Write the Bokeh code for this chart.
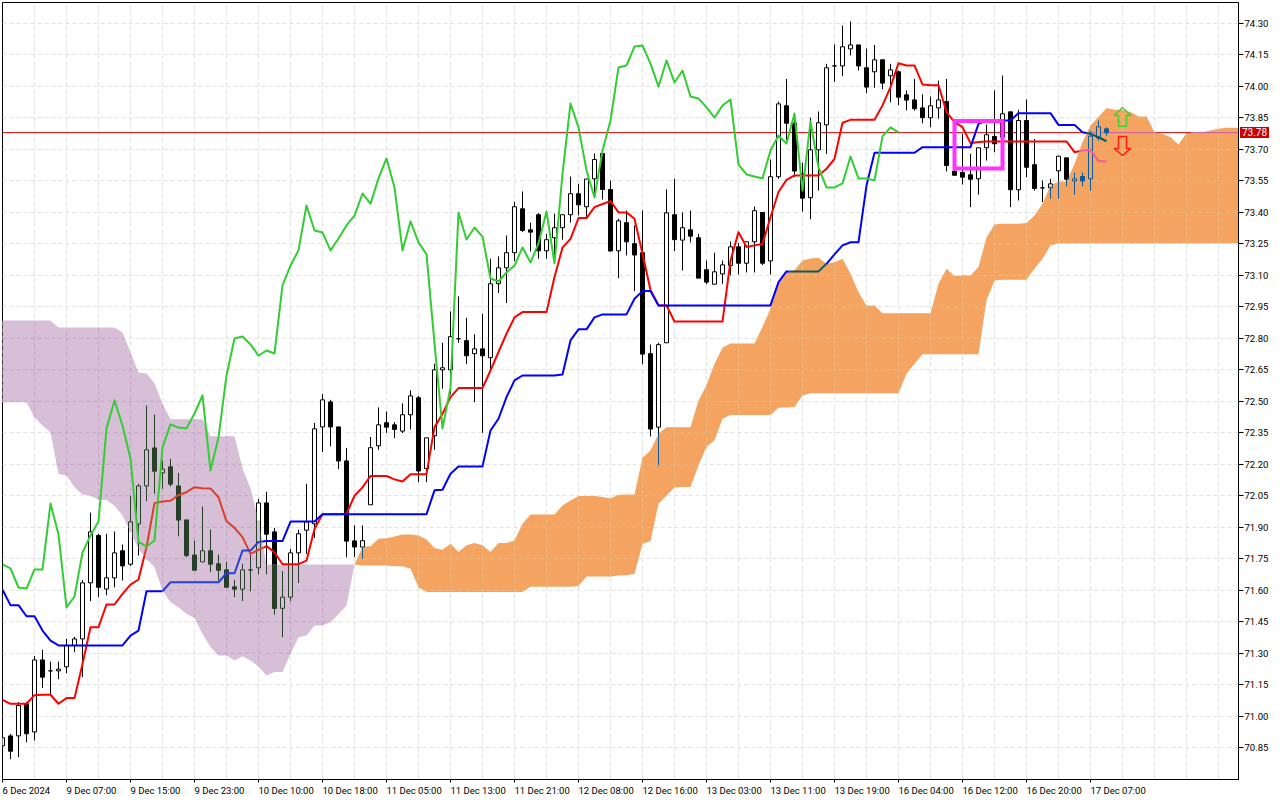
import math
import numpy as np
from bokeh.embed import file_html
from bokeh.layouts import column
from bokeh.resources import INLINE
from bokeh.plotting import figure
from bokeh.models import FixedTicker, PrintfTickFormatter, LinearAxis, Div, ColumnDataSource

# ---- data ----
opens = [70.859,70.906,70.906,71.059,70.925,71.268,71.216,71.216,71.235,71.337,71.368,71.635,71.861,71.606,71.659,71.788,71.724,71.916,72.097,72.278,
 72.159,72.188,72.097,71.935,71.768,71.735,71.788,71.726,71.697,71.616,71.605,71.697,71.707,72.016,71.878,71.514,71.567,71.778,71.886,71.916,
 72.378,72.497,72.378,72.216,71.835,71.806,72.007,72.288,72.398,72.388,72.358,72.436,72.517,72.179,72.336,72.65,72.65,72.798,72.789,72.727,
 72.75,72.708,73.06,73.136,73.208,73.417,73.317,73.389,73.217,73.279,73.327,73.389,73.489,73.427,73.56,73.681,73.509,73.217,73.351,73.251,
 73.208,72.727,72.377,72.779,73.389,73.268,73.317,73.279,73.127,73.058,73.107,73.147,73.236,73.158,73.26,73.40,73.169,73.57,73.908,73.825,
 73.584,73.47,73.698,73.817,74.098,74.098,74.179,74.198,74.089,74.07,74.127,74.051,74.07,73.96,73.936,73.898,73.851,73.898,73.928,73.596,
 73.59,73.579,73.56,73.708,73.762,73.758,73.879,73.508,73.838,73.627,73.517,73.517,73.598,73.66,73.55,73.571,73.56,73.754,73.798]
highs = [70.90,70.916,71.067,71.067,71.287,71.316,71.26,71.26,71.368,71.378,71.649,71.97,71.869,71.869,71.88,71.818,72.05,72.107,72.48,72.437,
 72.221,72.226,72.159,71.935,71.837,71.999,71.889,71.77,71.735,71.649,71.726,71.773,72.035,72.069,71.897,71.691,71.797,71.888,72.107,72.397,
 72.535,72.507,72.378,72.278,71.909,71.909,72.33,72.471,72.452,72.401,72.49,72.552,72.526,72.326,72.679,72.779,72.928,73.0,72.898,72.819,
 72.917,73.179,73.19,73.29,73.451,73.5,73.351,73.397,73.298,73.394,73.39,73.571,73.536,73.56,73.681,73.681,73.552,73.37,73.409,73.338,
 73.409,72.77,72.779,73.51,73.56,73.40,73.409,73.298,73.171,73.208,73.171,73.262,73.255,73.26,73.428,73.40,73.652,73.928,74.036,73.87,
 73.636,73.851,73.881,74.108,74.2,74.29,74.31,74.198,74.181,74.198,74.127,74.108,74.076,73.981,74.036,73.962,73.952,74.028,74.036,73.838,
 73.774,73.679,73.708,73.819,73.981,74.052,73.879,73.889,73.938,73.75,73.552,73.56,73.668,73.66,73.59,73.59,73.79,73.838,73.806]
lows = [70.85,70.795,70.805,70.876,70.884,71.135,71.103,71.176,71.205,71.305,71.186,71.548,71.567,71.576,71.614,71.646,71.716,71.765,72.024,72.059,
 72.083,72.094,71.857,71.757,71.695,71.735,71.686,71.646,71.614,71.567,71.548,71.595,71.676,71.676,71.484,71.376,71.548,71.634,71.773,71.849,
 72.258,72.286,72.177,71.757,71.758,71.75,72.007,72.269,72.35,72.325,72.349,72.366,72.115,72.115,72.269,72.56,72.533,72.779,72.677,72.496,
 72.35,72.647,73.016,72.968,73.168,73.306,73.214,73.179,73.179,73.155,73.27,73.351,73.386,73.378,73.47,73.461,73.216,73.087,73.195,73.025,
 72.677,72.333,72.195,72.779,73.216,73.123,73.257,73.087,73.058,73.058,73.06,73.10,73.104,73.114,73.114,73.149,73.104,73.56,73.743,73.568,
 73.404,73.368,73.504,73.679,74.022,74.049,74.148,74.076,73.968,73.994,73.987,73.924,73.911,73.886,73.885,73.825,73.806,73.846,73.595,73.577,
 73.533,73.425,73.485,73.647,73.687,73.75,73.425,73.457,73.568,73.504,73.449,73.466,73.466,73.525,73.485,73.525,73.504,73.742,73.766]
closes = [70.897,70.833,71.051,70.916,71.268,71.186,71.216,71.224,71.337,71.368,71.635,71.878,71.614,71.659,71.778,71.716,71.926,72.097,72.269,72.167,
 72.177,72.105,71.934,71.765,71.695,71.788,71.724,71.695,71.614,71.605,71.697,71.697,72.016,71.867,71.513,71.567,71.778,71.869,71.926,72.369,
 72.507,72.378,72.216,71.834,71.806,71.836,72.279,72.388,72.377,72.366,72.436,72.526,72.168,72.326,72.65,72.66,72.808,72.798,72.717,72.75,
 72.717,73.06,73.136,73.208,73.427,73.314,73.306,73.217,73.27,73.327,73.389,73.489,73.436,73.559,73.652,73.509,73.216,73.36,73.26,73.197,
 72.725,72.368,72.77,73.398,73.27,73.327,73.287,73.087,73.068,73.117,73.15,73.236,73.158,73.26,73.408,73.158,73.57,73.917,73.825,73.597,
 73.468,73.698,73.827,74.089,74.098,74.189,74.198,74.098,73.997,74.127,74.016,74.079,73.949,73.935,73.894,73.851,73.908,73.936,73.623,73.577,
 73.568,73.558,73.708,73.77,73.727,73.87,73.508,73.838,73.615,73.514,73.517,73.536,73.668,73.558,73.56,73.55,73.763,73.808,73.78]

tenkan = [71.078,71.059,71.059,71.059,71.10,71.102,71.102,71.059,71.086,71.086,71.249,71.424,71.424,71.532,71.532,71.583,71.627,71.651,71.805,72.015,
 72.023,72.026,72.054,72.067,72.091,72.086,72.085,72.043,71.929,71.897,71.853,71.773,71.792,71.81,71.781,71.724,71.724,71.724,71.741,71.892,
 71.962,71.962,71.962,71.964,72.05,72.09,72.144,72.144,72.144,72.128,72.118,72.153,72.153,72.153,72.377,72.44,72.52,72.563,72.563,72.563,
 72.563,72.647,72.735,72.822,72.90,72.925,72.925,72.925,72.925,73.092,73.232,73.274,73.373,73.373,73.425,73.44,73.454,73.40,73.40,73.37,
 73.203,73.03,72.957,72.957,72.88,72.88,72.88,72.88,72.88,72.88,72.88,73.17,73.306,73.235,73.243,73.25,73.377,73.497,73.555,73.576,
 73.576,73.576,73.576,73.608,73.655,73.827,73.841,73.841,73.841,73.841,73.91,73.997,74.111,74.10,74.10,74.009,74.006,74.006,73.878,73.83,
 73.806,73.73,73.735,73.738,73.738,73.738,73.738,73.738,73.738,73.738,73.738,73.738,73.738,73.738,73.687,73.695,73.698,73.644,73.644]
kijun = [71.602,71.529,71.529,71.476,71.476,71.408,71.36,71.337,71.337,71.337,71.337,71.337,71.337,71.337,71.337,71.337,71.384,71.408,71.595,71.595,
 71.595,71.638,71.638,71.638,71.638,71.638,71.638,71.638,71.681,71.681,71.789,71.789,71.83,71.834,71.834,71.834,71.927,71.927,71.927,71.927,
 71.962,71.962,71.962,71.962,71.962,71.962,71.962,71.962,71.962,71.962,71.962,71.962,71.962,71.962,72.076,72.079,72.155,72.19,72.19,72.19,
 72.19,72.361,72.417,72.52,72.60,72.623,72.623,72.623,72.623,72.623,72.628,72.79,72.843,72.843,72.90,72.914,72.914,72.914,72.914,72.989,
 73.025,73.025,72.957,72.957,72.957,72.957,72.957,72.957,72.957,72.957,72.957,72.957,72.957,72.957,72.957,72.957,72.957,73.068,73.119,73.119,
 73.119,73.119,73.119,73.155,73.2,73.243,73.258,73.258,73.528,73.684,73.684,73.684,73.684,73.684,73.684,73.711,73.711,73.711,73.711,73.711,
 73.711,73.711,73.822,73.838,73.838,73.838,73.838,73.873,73.873,73.873,73.873,73.873,73.817,73.817,73.817,73.782,73.774,73.758,73.739]
chikou = [71.723,71.704,71.613,71.608,71.699,71.699,72.013,71.866,71.518,71.57,71.78,71.861,71.928,72.371,72.504,72.385,72.228,71.832,71.808,71.837,
 72.28,72.39,72.375,72.371,72.442,72.528,72.17,72.328,72.623,72.799,72.809,72.771,72.718,72.742,72.728,73.052,73.147,73.219,73.433,73.314,
 73.304,73.219,73.276,73.338,73.385,73.49,73.442,73.562,73.657,73.519,73.219,73.357,73.257,73.2,72.776,72.371,72.566,73.4,73.271,73.328,
 73.285,73.085,73.071,73.114,73.147,73.233,73.161,73.252,73.404,73.157,73.585,73.919,73.805,73.6,73.471,73.695,73.838,74.09,74.1,74.19,
 74.195,74.109,73.999,74.124,74.019,74.076,73.952,73.943,73.9,73.852,73.909,73.938,73.628,73.581,73.571,73.562,73.695,73.766,73.728,73.871,
 73.504,73.833,73.614,73.519,73.519,73.538,73.666,73.562,73.562,73.552,73.762,73.805,73.781]
span_a = [72.496,72.496,72.496,72.496,72.424,72.385,72.353,72.154,72.146,72.091,72.056,72.051,72.03,72.03,72.003,71.956,71.876,71.797,71.749,71.71,
 71.599,71.543,71.519,71.487,71.468,71.392,71.329,71.289,71.289,71.265,71.286,71.265,71.237,71.194,71.21,71.21,71.297,71.376,71.384,71.432,
 71.432,71.448,71.487,71.527,71.722,71.806,71.81,71.845,71.848,71.856,71.866,71.866,71.861,71.842,71.801,71.793,71.821,71.782,71.814,71.825,
 71.814,71.782,71.825,71.825,71.837,71.917,71.961,71.961,71.961,71.961,72.004,72.028,72.049,72.049,72.049,72.044,72.037,72.055,72.056,72.056,
 72.231,72.266,72.345,72.377,72.377,72.377,72.377,72.504,72.576,72.679,72.755,72.776,72.776,72.776,72.776,72.854,72.941,73.06,73.116,73.124,
 73.171,73.181,73.184,73.155,73.163,73.179,73.108,73.02,72.957,72.957,72.92,72.92,72.92,72.92,72.92,72.92,72.92,73.06,73.132,73.097,
 73.10,73.10,73.14,73.28,73.342,73.346,73.346,73.346,73.349,73.385,73.441,73.528,73.547,73.547,73.631,73.735,73.814,73.854,73.898,73.889,
 73.889,73.878,73.857,73.857,73.782,73.774,73.758,73.723,73.777,73.782,73.782,73.79,73.798,73.803,73.803,73.803]
span_b = [72.885]*7 + [72.852]*8 + [72.828,72.733,72.637,72.633,72.585,72.49] + [72.414]*5 + [72.333]*4 + [72.18,72.085,71.933] + [71.723]*12 + \
 [71.718,71.718,71.718,71.718,71.714,71.714,71.702,71.614] + [71.592]*13 + [71.617]*6 + [71.62] + [71.665]*4 + \
 [71.67,71.671,71.678,71.821,71.833,72.012,72.05,72.09,72.092,72.092,72.195,72.282,72.314,72.417] + [72.435]*6 + \
 [72.469,72.47,72.473,72.528] + [72.538]*12 + [72.631,72.679] + [72.724]*8 + [72.981,73.076] + [73.079]*4 + \
 [73.133,73.179,73.242] + [73.253]*24
assert len(opens) == len(highs) == len(lows) == len(closes) == len(tenkan) == len(kijun) == 139
assert len(chikou) == 113
assert len(span_a) == 156 and len(span_b) == 156

time_labels = ["6 Dec 2024","9 Dec 07:00","9 Dec 15:00","9 Dec 23:00","10 Dec 10:00","10 Dec 18:00","11 Dec 05:00","11 Dec 13:00","11 Dec 21:00",
 "12 Dec 08:00","12 Dec 16:00","13 Dec 03:00","13 Dec 11:00","13 Dec 19:00","16 Dec 04:00","16 Dec 12:00","16 Dec 20:00","17 Dec 07:00"]
label_bars = [0,8,16,24,32,40,48,56,64,72,80,88,96,104,112,120,128,136]
grid_bars = [0,4,8,12,16,20,24,28,32,36,40,44,48,52,56,60,64,68,72,76,80,84,88,92,96,100,104,108,112,116,120,124,128,132,136,140,144,148,152]
price_ticks = [74.30,74.15,74.00,73.85,73.70,73.55,73.40,73.25,73.10,72.95,72.80,72.65,72.50,72.35,72.20,72.05,71.90,71.75,71.60,71.45,71.30,71.15,71.00,70.85]
last_price = 73.78
box_bars = [119, 125]
box_prices = [73.836, 73.609]
up_arrow = dict(bar=140, tip=73.90, shoulder=73.862, base=73.81)
down_arrow = dict(bar=140, tip=73.671, shoulder=73.705, base=73.762)

# ---- geometry and colours ----
BAR_PX, PRICE_PX = 8.0, 209.9
LEFT, RIGHT, TOP, BOTTOM = 2, 1238, 2, 779
WIDTH, HEIGHT = 1280, 800
THISTLE, SANDY = "#D8BFD8", "#F4A460"
CROSS_BAR = 44
bars = np.arange(len(span_a))

def blend(col, fill):
    c, f = int(col[1:], 16), int(fill[1:], 16)
    return "#%06X" % (c ^ f ^ 0xFFFFFF)

def zone(x, y):
    a, b = np.interp(x, bars, span_a), np.interp(x, bars, span_b)
    if min(a, b) <= y <= max(a, b):
        return 1 if x < CROSS_BAR else 2
    return 0

def paint(col, z, plain=False):
    if plain or z == 0:
        return col
    return blend(col, THISTLE if z == 1 else SANDY)

def split_path(xs, ys, col, store, outside=True, plain=False):
    cur_x, cur_y, cur_z = [], [], None
    def flush():
        if len(cur_x) > 1 and (outside or cur_z != 0):
            store["xs"].append(list(cur_x)); store["ys"].append(list(cur_y)); store["c"].append(paint(col, cur_z, plain))
    for k in range(len(xs) - 1):
        x0, y0, x1, y1 = xs[k], ys[k], xs[k+1], ys[k+1]
        n = max(1, int(math.ceil(max(abs(x1-x0)*BAR_PX, abs(y1-y0)*PRICE_PX))))
        for s in range(n):
            t0, t1 = s/n, (s+1)/n
            ax, ay, bx, by = x0+(x1-x0)*t0, y0+(y1-y0)*t0, x0+(x1-x0)*t1, y0+(y1-y0)*t1
            z = zone((ax+bx)/2, (ay+by)/2)
            if z != cur_z:
                if cur_x:
                    cur_x.append(ax); cur_y.append(ay)
                flush()
                cur_x, cur_y, cur_z = [ax], [ay], z
            if s == n-1:
                cur_x.append(bx); cur_y.append(by)
    flush()

def new_store():
    return {"xs": [], "ys": [], "c": []}

y_top = price_ticks[0] + (23 - TOP) / PRICE_PX
y_bot = y_top - (BOTTOM - TOP) / PRICE_PX
x_lo = 0.0
x_hi = x_lo + (RIGHT - LEFT) / BAR_PX

p = figure(width=WIDTH, height=HEIGHT, output_backend="svg", toolbar_location=None,
           x_range=(x_lo, x_hi), y_range=(y_bot, y_top), y_axis_location="right",
           min_border_left=LEFT, min_border_top=TOP, min_border_right=WIDTH-RIGHT, min_border_bottom=HEIGHT-BOTTOM,
           background_fill_color="white", border_fill_color="white", outline_line_color="black", outline_line_width=1)

FONT = "Roboto"
for ax in (p.xaxis[0], p.yaxis[0]):
    ax.axis_line_color = "black"
    ax.major_tick_line_color = "black"
    ax.minor_tick_line_color = None
    ax.major_tick_in = 0
    ax.major_label_text_font = FONT
    ax.major_label_text_font_size = "9.5px"
    ax.major_label_text_color = "black"
p.yaxis[0].ticker = FixedTicker(ticks=price_ticks)
p.yaxis[0].formatter = PrintfTickFormatter(format="%.2f")
p.yaxis[0].major_tick_out = 5
p.yaxis[0].major_label_standoff = 1
p.xaxis[0].ticker = FixedTicker(ticks=label_bars)
p.xaxis[0].major_label_overrides = {b: "" for b in label_bars}
p.xaxis[0].major_tick_out = 3
p.xaxis[0].major_label_standoff = 0

# Labels start at their tick in the reference, axis labels are centred: a second axis holds them, half a label further on.
LABEL_PX = {10: 47.6, 11: 49.9, 12: 55.2}
label_ticks = [round(b + LABEL_PX[len(t)] / 2 / BAR_PX, 3) for b, t in zip(label_bars, time_labels)]
label_axis = LinearAxis(ticker=FixedTicker(ticks=label_ticks),
                        major_label_overrides={k: t for k, t in zip(label_ticks, time_labels)},
                        axis_line_color=None, major_tick_line_color=None, minor_tick_line_color=None,
                        major_tick_in=0, major_tick_out=0, major_label_standoff=2,
                        major_label_text_font=FONT, major_label_text_font_size="9.5px", major_label_text_color="black")
p.add_layout(label_axis, "below")

GRID = "#E2E2E2"
p.xgrid.ticker = FixedTicker(ticks=grid_bars)
p.ygrid.ticker = FixedTicker(ticks=price_ticks)
for g in p.xgrid + p.ygrid:
    g.grid_line_color = GRID
    g.grid_line_dash = "4 3"
    g.grid_line_width = 1

# ---- cloud ----
p.varea(x=bars[:CROSS_BAR+1], y1=span_a[:CROSS_BAR+1], y2=span_b[:CROSS_BAR+1], fill_color=THISTLE)
p.varea(x=bars[CROSS_BAR:], y1=span_a[CROSS_BAR:], y2=span_b[CROSS_BAR:], fill_color=SANDY)

gs = new_store()
for b in grid_bars:
    split_path([b, b], [y_bot, y_top], GRID, gs, outside=False)
for t in price_ticks:
    split_path([x_lo, x_hi], [t, t], GRID, gs, outside=False)
p.multi_line(xs="xs", ys="ys", line_color="c", line_width=1, line_dash="4 3", source=ColumnDataSource(gs))

# ---- last price line ----
ps = new_store()
split_path([x_lo, x_hi], [last_price, last_price], "#CC0000", ps)
p.multi_line(xs="xs", ys="ys", line_color="c", line_width=1, source=ColumnDataSource(ps))

# ---- candles ----
HALF = 2.0 / BAR_PX
ql, qr, qt, qb, qc = [], [], [], [], []
cs = new_store()
for i, (o, h, l, c) in enumerate(zip(opens, highs, lows, closes)):
    hi, lo = max(o, c), min(o, c)
    solid = c < o
    a, b = np.interp(i, bars, span_a), np.interp(i, bars, span_b)
    ztype = 1 if i < CROSS_BAR else 2
    cl, ch = min(a, b), max(a, b)
    cuts = sorted({lo, hi, *[v for v in (cl, ch) if lo < v < hi]})
    for y0, y1 in zip(cuts[:-1], cuts[1:]):
        inside = cl <= (y0 + y1) / 2 <= ch
        if solid:
            col = paint("#000000", ztype if inside else 0)
        else:
            col = (THISTLE if ztype == 1 else SANDY) if inside else "#FFFFFF"
        ql.append(i - HALF); qr.append(i + HALF); qt.append(y1); qb.append(y0); qc.append(col)
    if h > hi:
        split_path([i, i], [hi, h], "#000000", cs)
    if l < lo:
        split_path([i, i], [lo, l], "#000000", cs)
    split_path([i-HALF, i+HALF, i+HALF, i-HALF, i-HALF], [lo, lo, hi, hi, lo], "#000000", cs)
p.quad(left=ql, right=qr, top=qt, bottom=qb, fill_color=qc, line_color=None)
p.multi_line(xs="xs", ys="ys", line_color="c", line_width=1, source=ColumnDataSource(cs))

# ---- ichimoku lines ----
for series, col, plain in ((tenkan, "#FF0000", False), (kijun, "#0000FF", False), (chikou, "#32CD32", True)):
    st = new_store()
    split_path(list(range(len(series))), series, col, st, plain=plain)
    p.multi_line(xs="xs", ys="ys", line_color="c", line_width=2, line_join="round", source=ColumnDataSource(st))

# ---- marks on the chart ----
p.quad(left=[box_bars[0]], right=[box_bars[1]], top=[box_prices[0]], bottom=[box_prices[1]], fill_alpha=0,
       line_color="#FF33FF", line_width=4, line_join="miter")
def arrow(d, col):
    b = d["bar"]
    xs = [b, b+1.05, b+0.5, b+0.5, b-0.5, b-0.5, b-1.05, b]
    ys = [d["tip"], d["shoulder"], d["shoulder"], d["base"], d["base"], d["shoulder"], d["shoulder"], d["tip"]]
    p.patch(xs, ys, fill_alpha=0, line_color=col, line_width=1.5)
arrow(up_arrow, "#44CC33")
arrow(down_arrow, "#FF2010")

# Text outside the frame is clipped for annotations, so the last-price tag is a small positioned element.
tag = Div(text="%.2f" % last_price, width=29, height=11, margin=0,
          styles={"position": "absolute", "left": "1240px", "top": "127px", "width": "29px", "height": "11px",
                  "background-color": "#CC0000", "color": "white", "font-family": "Roboto", "font-size": "10px",
                  "line-height": "11px", "text-align": "center", "z-index": "5"})
open("out.html", "w").write(file_html(column(p, tag, spacing=0), INLINE))
